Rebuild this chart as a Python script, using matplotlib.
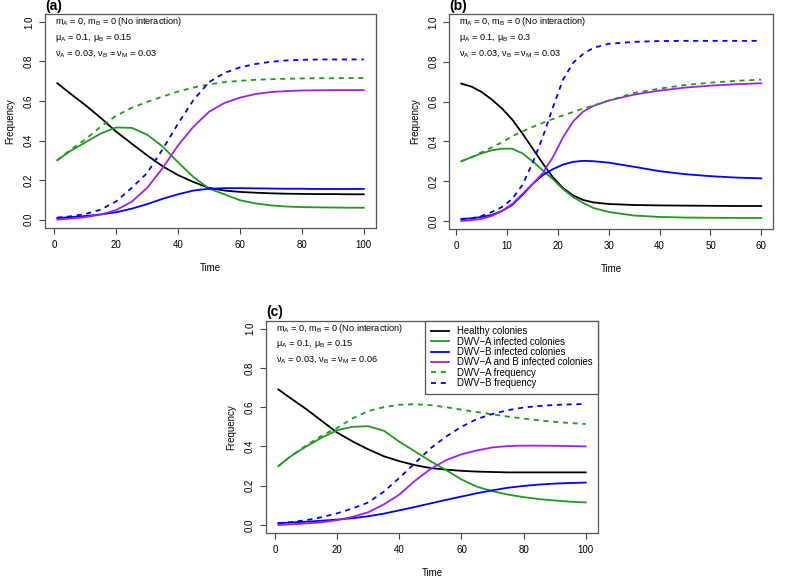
import matplotlib
matplotlib.use("Agg")
import matplotlib.pyplot as plt

plt.rcParams["font.family"] = ["Liberation Sans", "DejaVu Sans"]
plt.rcParams["mathtext.fontset"] = "custom"
plt.rcParams["mathtext.rm"] = "Liberation Sans"

# ---- panel (a): muA = 0.1, muB = 0.15, nu = 0.03 ----
t_a = [1, 5, 10, 15, 20, 25, 30, 35, 40, 45, 50, 55, 60, 65, 70, 75, 80, 85, 90, 95, 100]
healthy_a = [0.69, 0.64, 0.58, 0.515, 0.445, 0.385, 0.325, 0.27, 0.225, 0.19, 0.16, 0.147, 0.14,
             0.136, 0.133, 0.131, 0.13, 0.129, 0.129, 0.128, 0.128]
dwva_a = [0.30, 0.345, 0.39, 0.435, 0.466, 0.464, 0.43, 0.37, 0.29, 0.215, 0.157, 0.128, 0.098,
          0.082, 0.072, 0.066, 0.063, 0.062, 0.061, 0.06, 0.06]
dwvb_a = [0.008, 0.012, 0.018, 0.026, 0.037, 0.055, 0.078, 0.105, 0.128, 0.147, 0.156, 0.159,
          0.159, 0.158, 0.157, 0.156, 0.156, 0.155, 0.155, 0.155, 0.155]
dwvab_a = [0.0, 0.005, 0.012, 0.025, 0.048, 0.09, 0.16, 0.26, 0.375, 0.47, 0.545, 0.59, 0.617,
           0.635, 0.645, 0.65, 0.653, 0.654, 0.655, 0.655, 0.655]
freqa_a = [0.30, 0.35, 0.405, 0.47, 0.525, 0.565, 0.595, 0.622, 0.648, 0.668, 0.684, 0.695,
           0.702, 0.707, 0.71, 0.712, 0.714, 0.715, 0.715, 0.716, 0.716]
freqb_a = [0.01, 0.016, 0.028, 0.05, 0.092, 0.16, 0.235, 0.355, 0.485, 0.605, 0.695, 0.742, 0.77,
           0.787, 0.798, 0.805, 0.808, 0.81, 0.81, 0.81, 0.81]

# ---- panel (b): muA = 0.1, muB = 0.3, nu = 0.03 ----
t_b = [1, 3, 5, 7, 9, 11, 13, 15, 17, 19, 21, 23, 25, 27, 30, 35, 40, 45, 50, 55, 60]
healthy_b = [0.69, 0.675, 0.648, 0.61, 0.565, 0.51, 0.44, 0.365, 0.29, 0.22, 0.165, 0.128, 0.105,
             0.093, 0.085, 0.08, 0.078, 0.077, 0.076, 0.075, 0.075]
dwva_b = [0.30, 0.32, 0.34, 0.355, 0.363, 0.363, 0.34, 0.30, 0.255, 0.21, 0.16, 0.12, 0.09,
          0.065, 0.045, 0.027, 0.02, 0.017, 0.016, 0.015, 0.015]
dwvb_b = [0.01, 0.013, 0.02, 0.03, 0.05, 0.08, 0.13, 0.185, 0.23, 0.26, 0.283, 0.297, 0.302,
          0.30, 0.293, 0.272, 0.25, 0.235, 0.225, 0.218, 0.214]
dwvab_b = [0.0, 0.004, 0.01, 0.025, 0.05, 0.085, 0.135, 0.185, 0.24, 0.32, 0.42, 0.50, 0.55,
           0.578, 0.605, 0.635, 0.655, 0.67, 0.68, 0.687, 0.692]
freqa_b = [0.30, 0.32, 0.345, 0.37, 0.395, 0.425, 0.45, 0.472, 0.493, 0.512, 0.53, 0.548, 0.565,
           0.58, 0.605, 0.643, 0.665, 0.683, 0.695, 0.704, 0.71]
freqb_b = [0.01, 0.013, 0.025, 0.045, 0.07, 0.11, 0.18, 0.29, 0.42, 0.57, 0.71, 0.795, 0.84,
           0.87, 0.89, 0.90, 0.904, 0.905, 0.905, 0.905, 0.905]

# ---- panel (c): muA = 0.1, muB = 0.15, nuB = nuM = 0.06 ----
t_c = [1, 5, 10, 15, 20, 25, 30, 35, 40, 45, 50, 55, 60, 65, 70, 75, 80, 85, 90, 95, 100]
healthy_c = [0.69, 0.645, 0.59, 0.53, 0.47, 0.425, 0.385, 0.35, 0.325, 0.305, 0.29, 0.282, 0.276,
             0.272, 0.27, 0.268, 0.268, 0.268, 0.268, 0.268, 0.268]
dwva_c = [0.30, 0.35, 0.40, 0.445, 0.483, 0.50, 0.503, 0.48, 0.424, 0.375, 0.325, 0.28, 0.232,
          0.195, 0.172, 0.155, 0.142, 0.132, 0.125, 0.119, 0.115]
dwvb_c = [0.01, 0.013, 0.017, 0.022, 0.028, 0.035, 0.045, 0.058, 0.075, 0.092, 0.11, 0.128,
          0.145, 0.162, 0.177, 0.19, 0.199, 0.206, 0.211, 0.214, 0.216]
dwvab_c = [0.0, 0.004, 0.008, 0.014, 0.025, 0.042, 0.065, 0.105, 0.155, 0.225, 0.285, 0.33, 0.36,
           0.38, 0.395, 0.402, 0.404, 0.404, 0.403, 0.402, 0.40]
freqa_c = [0.30, 0.35, 0.405, 0.455, 0.495, 0.543, 0.58, 0.60, 0.612, 0.615, 0.61, 0.60, 0.587,
           0.575, 0.563, 0.552, 0.542, 0.533, 0.525, 0.519, 0.514]
freqb_c = [0.01, 0.015, 0.025, 0.04, 0.06, 0.085, 0.115, 0.17, 0.24, 0.315, 0.39, 0.45, 0.50,
           0.54, 0.565, 0.585, 0.598, 0.606, 0.611, 0.614, 0.616]

labels = ["Healthy colonies", "DWV\u2212A infected colonies", "DWV\u2212B infected colonies",
          "DWV\u2212A and B infected colonies", "DWV\u2212A frequency", "DWV\u2212B frequency"]
colors = ["black", "#1f9a1f", "#0000ff", "#a020f0", "#1f9a1f", "#0000ff"]
styles = ["-", "-", "-", "-", (0, (2.8, 2.6)), (0, (2.8, 2.6))]

panel_texts = [
    ["m$_\\mathrm{A}$ = 0, m$_\\mathrm{B}$ = 0 (No interaction)",
     "\u03bc$_\\mathrm{A}$ = 0.1, \u03bc$_\\mathrm{B}$ = 0.15",
     "\u03bd$_\\mathrm{A}$ = 0.03, \u03bd$_\\mathrm{B}$ = \u03bd$_\\mathrm{M}$ = 0.03"],
    ["m$_\\mathrm{A}$ = 0, m$_\\mathrm{B}$ = 0 (No interaction)",
     "\u03bc$_\\mathrm{A}$ = 0.1, \u03bc$_\\mathrm{B}$ = 0.3",
     "\u03bd$_\\mathrm{A}$ = 0.03, \u03bd$_\\mathrm{B}$ = \u03bd$_\\mathrm{M}$ = 0.03"],
    ["m$_\\mathrm{A}$ = 0, m$_\\mathrm{B}$ = 0 (No interaction)",
     "\u03bc$_\\mathrm{A}$ = 0.1, \u03bc$_\\mathrm{B}$ = 0.15",
     "\u03bd$_\\mathrm{A}$ = 0.03, \u03bd$_\\mathrm{B}$ = \u03bd$_\\mathrm{M}$ = 0.06"],
]

fig = plt.figure(figsize=(7.87, 5.78), dpi=100)
ax_a = fig.add_axes([0.0572, 0.6064, 0.4206, 0.3694])
ax_b = fig.add_axes([0.5709, 0.6040, 0.4117, 0.3718])
ax_c = fig.add_axes([0.3380, 0.0780, 0.4218, 0.3672])

panels = [
    (ax_a, "(a)", t_a, [healthy_a, dwva_a, dwvb_a, dwvab_a, freqa_a, freqb_a], 100, [0, 20, 40, 60, 80, 100]),
    (ax_b, "(b)", t_b, [healthy_b, dwva_b, dwvb_b, dwvab_b, freqa_b, freqb_b], 60, [0, 10, 20, 30, 40, 50, 60]),
    (ax_c, "(c)", t_c, [healthy_c, dwva_c, dwvb_c, dwvab_c, freqa_c, freqb_c], 100, [0, 20, 40, 60, 80, 100]),
]

for i, (ax, tag, t, series, tmax, xt) in enumerate(panels):
    for s, c, ls, lab in zip(series, colors, styles, labels):
        ax.plot(t, s, color=c, linestyle=ls, lw=1.3, label=lab)
    span = tmax - 1
    ax.set_xlim(1 - 0.04 * span, tmax + 0.04 * span)
    ax.set_ylim(-0.04, 1.04)
    ax.set_xticks(xt)
    ax.set_yticks([0.0, 0.2, 0.4, 0.6, 0.8, 1.0])
    ax.set_yticklabels(["0.0", "0.2", "0.4", "0.6", "0.8", "1.0"], rotation=90, va="center")
    ax.tick_params(direction="out", length=4, width=0.8, colors="#444444", labelsize=7,
                   labelcolor="black")
    ax.tick_params(axis="x", pad=5)
    ax.tick_params(axis="y", pad=4)
    for sp in ax.spines.values():
        sp.set_color("#555555")
        sp.set_linewidth(0.9)
    ax.set_xlabel("Time", fontsize=7, labelpad=9)
    ax.set_ylabel("Frequency", fontsize=7, labelpad=6)
    ax.text(0.0, 1.006, tag, transform=ax.transAxes, fontsize=10, fontweight="bold",
            ha="left", va="bottom")
    for txt, yy in zip(panel_texts[i], [0.963, 0.889, 0.815]):
        ax.text(0.03, yy, txt, transform=ax.transAxes, fontsize=6.6, ha="left", va="center")

leg = ax_c.legend(loc="upper right", bbox_to_anchor=(1.0, 1.0), borderaxespad=0,
                  fancybox=False, edgecolor="#555555", fontsize=6.9, handlelength=1.9,
                  handletextpad=0.8, labelspacing=0.03, borderpad=0.6, framealpha=1)
leg.get_frame().set_linewidth(0.9)

fig.savefig("out.png", dpi=100)
